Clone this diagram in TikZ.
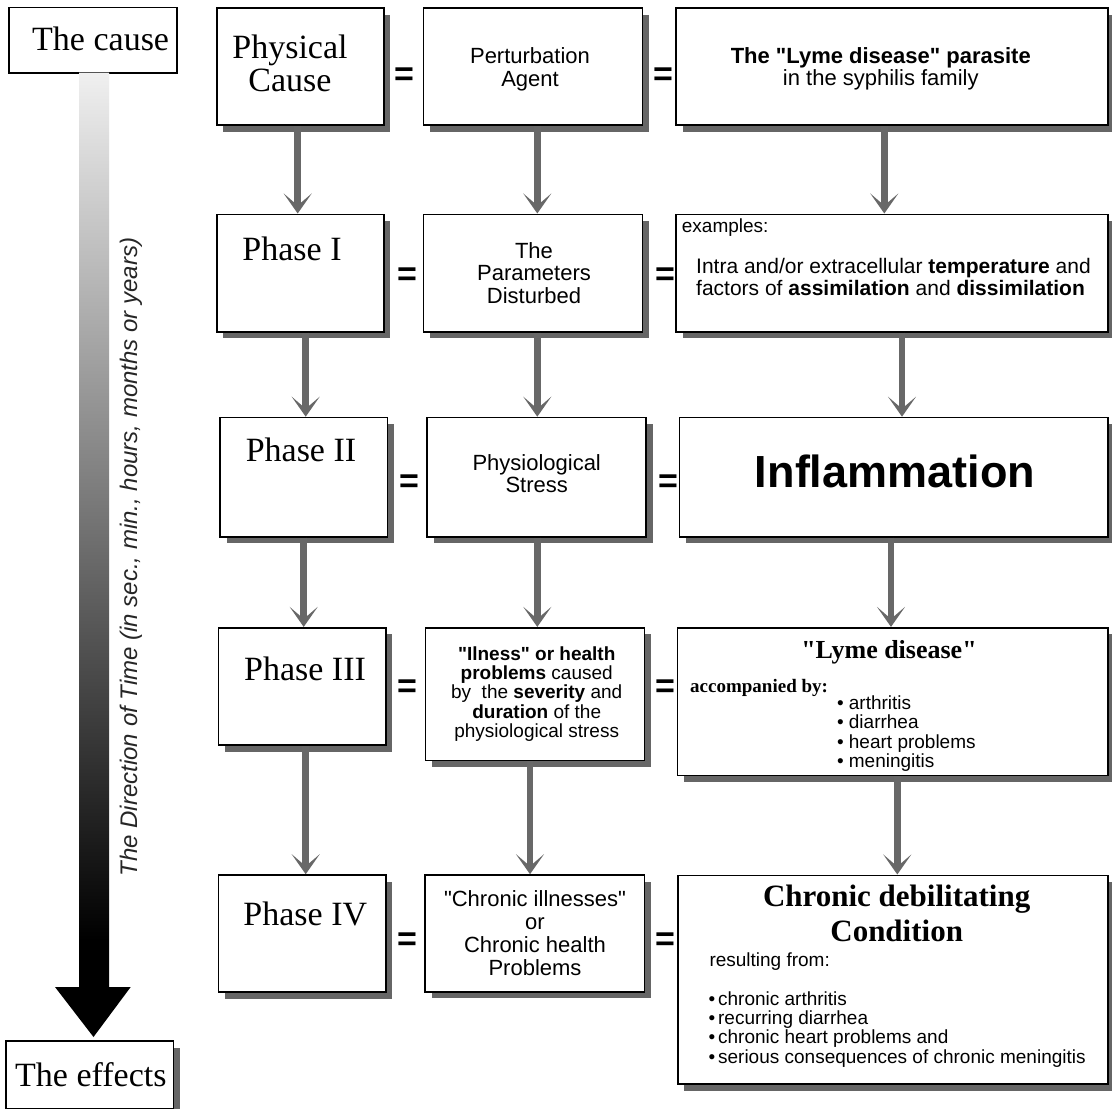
\documentclass[tikz,border=0pt]{standalone}
\usepackage{fontspec}
\setmainfont{Liberation Serif}[Ligatures=TeXOff]
\setsansfont{Liberation Sans}[Ligatures=TeXOff]
\usetikzlibrary{arrows.meta,shadows}
\definecolor{shgray}{HTML}{666666}
\definecolor{argray}{HTML}{686868}
\newcommand{\fsz}[2]{\fontsize{#1}{#2}\selectfont}
\newcommand{\dq}{"}
\newcommand{\mlc}[1]{\begin{tabular}[t]{@{}c@{}}#1\end{tabular}}
\newcommand{\mll}[1]{\begin{tabular}[t]{@{}l@{}}#1\end{tabular}}
\pgfdeclareverticalshading{timegrad}{100bp}{color(0bp)=(black); color(30bp)=(black); color(75bp)=(black!6); color(100bp)=(black!6)}
\tikzset{
  bx/.style={draw=black, line width=1.6pt, fill=white, inner sep=0pt,
    general shadow={fill=shgray, shadow xshift=6.5pt, shadow yshift=-6.5pt}},
  plainbx/.style={draw=black, line width=1.6pt, fill=white, inner sep=0pt},
  arr/.style={draw=argray, line width=6.5pt,
    -{Stealth[length=20pt,width=28pt,inset=12pt]}},
  eqs/.style={font=\sffamily\bfseries\fsz{34}{34}, inner sep=0pt},
  tx/.style={inner sep=0pt, anchor=base},
  txl/.style={inner sep=0pt, anchor=base west},
  serifbig/.style={font=\fsz{34}{33.4}},
  sansmid/.style={font=\sffamily\fsz{22}{22.7}},
}
\begin{document}
\begin{tikzpicture}[x=1pt,y=-1pt]
\useasboundingbox (0,0) rectangle (1112,1109);
\fill[white] (0,0) rectangle (1112,1109);

% ---------- left column: cause / effects ----------
\node[plainbx, minimum width=167.7pt, minimum height=65.4pt] (cause) at (92.85,40) {};
\node[bx, minimum width=167.6pt, minimum height=67.3pt] (effects) at (89.5,1074.65) {};
\node[txl, font=\fsz{34}{34}] (causet) at (32,50) {The cause};
\node[txl, font=\fsz{34}{34}] (effectst) at (15,1086) {The effects};

\shade[shading=timegrad] (79,72.7) -- (109,72.7) -- (109,987) -- (130.7,987)
  -- (93.5,1037) -- (55,987) -- (79,987) -- cycle;
\node[inner sep=0pt, rotate=90, text=black!85, font=\sffamily\itshape\fsz{24}{24}] (timet) at (131,557)
  {The Direction of Time (in sec., min., hours, months or years)};

% ---------- column 1 ----------
\node[bx, minimum width=167pt, minimum height=117pt] (pc) at (300.2,66.5) {};
\node[bx, minimum width=167pt, minimum height=117.4pt] (p1) at (300.2,273) {};
\node[bx, minimum width=167.3pt, minimum height=119.2pt] (p2) at (303.65,477.1) {};
\node[bx, minimum width=167.4pt, minimum height=117.3pt] (p3) at (302,686.35) {};
\node[bx, minimum width=167.4pt, minimum height=117pt] (p4) at (302,933.5) {};

% ---------- column 2 ----------
\node[bx, minimum width=219pt, minimum height=117pt] (pa) at (532.8,66.5) {};
\node[bx, minimum width=219pt, minimum height=117.4pt] (q1) at (532.8,273) {};
\node[bx, minimum width=219pt, minimum height=119.2pt] (q2) at (536.5,477.1) {};
\node[bx, minimum width=219pt, minimum height=132.6pt] (q3) at (534.8,694) {};
\node[bx, minimum width=219.3pt, minimum height=116.7pt] (q4) at (534.65,933.35) {};

% ---------- column 3 ----------
\node[bx, minimum width=431.7pt, minimum height=117pt] (ly) at (891.85,66.5) {};
\node[bx, minimum width=431.7pt, minimum height=117.4pt] (r1) at (891.85,273) {};
\node[bx, minimum width=428.3pt, minimum height=119.2pt] (r2) at (893.55,477.1) {};
\node[bx, minimum width=430.2pt, minimum height=147.6pt] (r3) at (892.6,701.5) {};
\node[bx, minimum width=430pt, minimum height=208.7pt] (r4) at (892.7,979.65) {};

% ---------- arrows ----------
\draw[arr] ([xshift=-2.5pt]pc.south) -- ([xshift=-2.5pt]p1.north);
\draw[arr] ([xshift=5.5pt]p1.south) -- ([xshift=2.05pt]p2.north);
\draw[arr] ([xshift=0.05pt]p2.south) -- ([xshift=1.7pt]p3.north);
\draw[arr] ([xshift=3.7pt]p3.south) -- ([xshift=3.7pt]p4.north);

\draw[arr] ([xshift=4.5pt]pa.south) -- ([xshift=4.5pt]q1.north);
\draw[arr] ([xshift=4.5pt]q1.south) -- ([xshift=0.8pt]q2.north);
\draw[arr] ([xshift=0.8pt]q2.south) -- ([xshift=2.5pt]q3.north);
\draw[arr] ([xshift=-4.8pt]q3.south) -- ([xshift=-4.65pt]q4.north);

\draw[arr] ([xshift=-7.55pt]ly.south) -- ([xshift=-7.55pt]r1.north);
\draw[arr] ([xshift=10.15pt]r1.south) -- ([xshift=8.45pt]r2.north);
\draw[arr] ([xshift=-2.55pt]r2.south) -- ([xshift=-1.6pt]r3.north);
\draw[arr] ([xshift=4.7pt]r3.south) -- ([xshift=4.6pt]r4.north);

% ---------- equal signs ----------
\node[eqs] (e11) at (404,76.7) {=};
\node[eqs] (e12) at (663,76.7) {=};
\node[eqs] (e21) at (407,276.7) {=};
\node[eqs] (e22) at (665,276.7) {=};
\node[eqs] (e31) at (409,483.3) {=};
\node[eqs] (e32) at (668,483.3) {=};
\node[eqs] (e41) at (407,688.3) {=};
\node[eqs] (e42) at (665,688.3) {=};
\node[eqs] (e51) at (407,941.7) {=};
\node[eqs] (e52) at (665,941.7) {=};

% ---------- column 1 texts ----------
\node[tx, serifbig] (pct) at (290,58.3) {\mlc{Physical\\Cause}};
\node[tx, serifbig] (p1t) at (292,260) {Phase I};
\node[tx, serifbig] (p2t) at (301,461) {Phase II};
\node[tx, serifbig] (p3t) at (305,680) {Phase III};
\node[tx, serifbig] (p4t) at (305.3,925.7) {Phase IV};

% ---------- column 2 texts ----------
\node[tx, sansmid] (pat) at (530,63.3) {\mlc{Perturbation\\Agent}};
\node[tx, sansmid, font=\sffamily\fsz{22}{22.5}] (q1t) at (534,258.3) {\mlc{The\\Parameters\\Disturbed}};
\node[tx, sansmid] (q2t) at (536.7,470) {\mlc{Physiological\\Stress}};
\node[tx, font=\sffamily\fsz{19}{19}] (q3t) at (536.7,660)
  {\mlc{\textbf{\dq Ilness\dq{} or health}\\\textbf{problems} caused\\by\ \ the \textbf{severity} and\\\textbf{duration} of the\\physiological stress}};
\node[tx, font=\sffamily\fsz{22}{23}] (q4t) at (535,906)
  {\mlc{\dq Chronic illnesses\dq\\or\\Chronic health\\Problems}};

% ---------- column 3 texts ----------
\node[tx, font=\sffamily\fsz{22}{22}] (lyt) at (880.8,63)
  {\mlc{\textbf{The \dq Lyme disease\dq{} parasite}\\in the syphilis family}};
\node[txl, font=\sffamily\fsz{19}{19}] (r1a) at (681.7,232.7) {examples:};
\node[txl, font=\sffamily\fsz{21}{22}] (r1b) at (696,273)
  {\mll{Intra and/or extracellular \textbf{temperature} and\\factors of \textbf{assimilation} and \textbf{dissimilation}}};
\node[tx, font=\sffamily\bfseries\fsz{45}{45}] (r2t) at (895,487.3) {Inflammation};
\node[tx, font=\bfseries\fsz{26}{26}] (r3t) at (889,658) {\dq Lyme disease\dq};
\node[txl, font=\bfseries\fsz{19}{19}] (r3a) at (690,692.7) {accompanied by:};
\node[txl, font=\sffamily\fsz{19}{19}] (r3b) at (836.8,709.3)
  {\mll{\textbullet\ arthritis\\\textbullet\ diarrhea\\\textbullet\ heart problems\\\textbullet\ meningitis}};
\node[tx, font=\bfseries\fsz{31}{35}] (r4t) at (896.7,906.7) {\mlc{Chronic debilitating\\Condition}};
\node[txl, font=\sffamily\fsz{19}{19}] (r4a) at (709.3,966.7) {resulting from:};
\node[txl, font=\sffamily\fsz{19}{19}] (r4b) at (708.3,1005)
  {\mll{\textbullet\hspace{3pt}chronic arthritis\\\textbullet\hspace{3pt}recurring diarrhea\\\textbullet\hspace{3pt}chronic heart problems and\\\textbullet\hspace{3pt}serious consequences of chronic meningitis}};
\end{tikzpicture}
\end{document}
